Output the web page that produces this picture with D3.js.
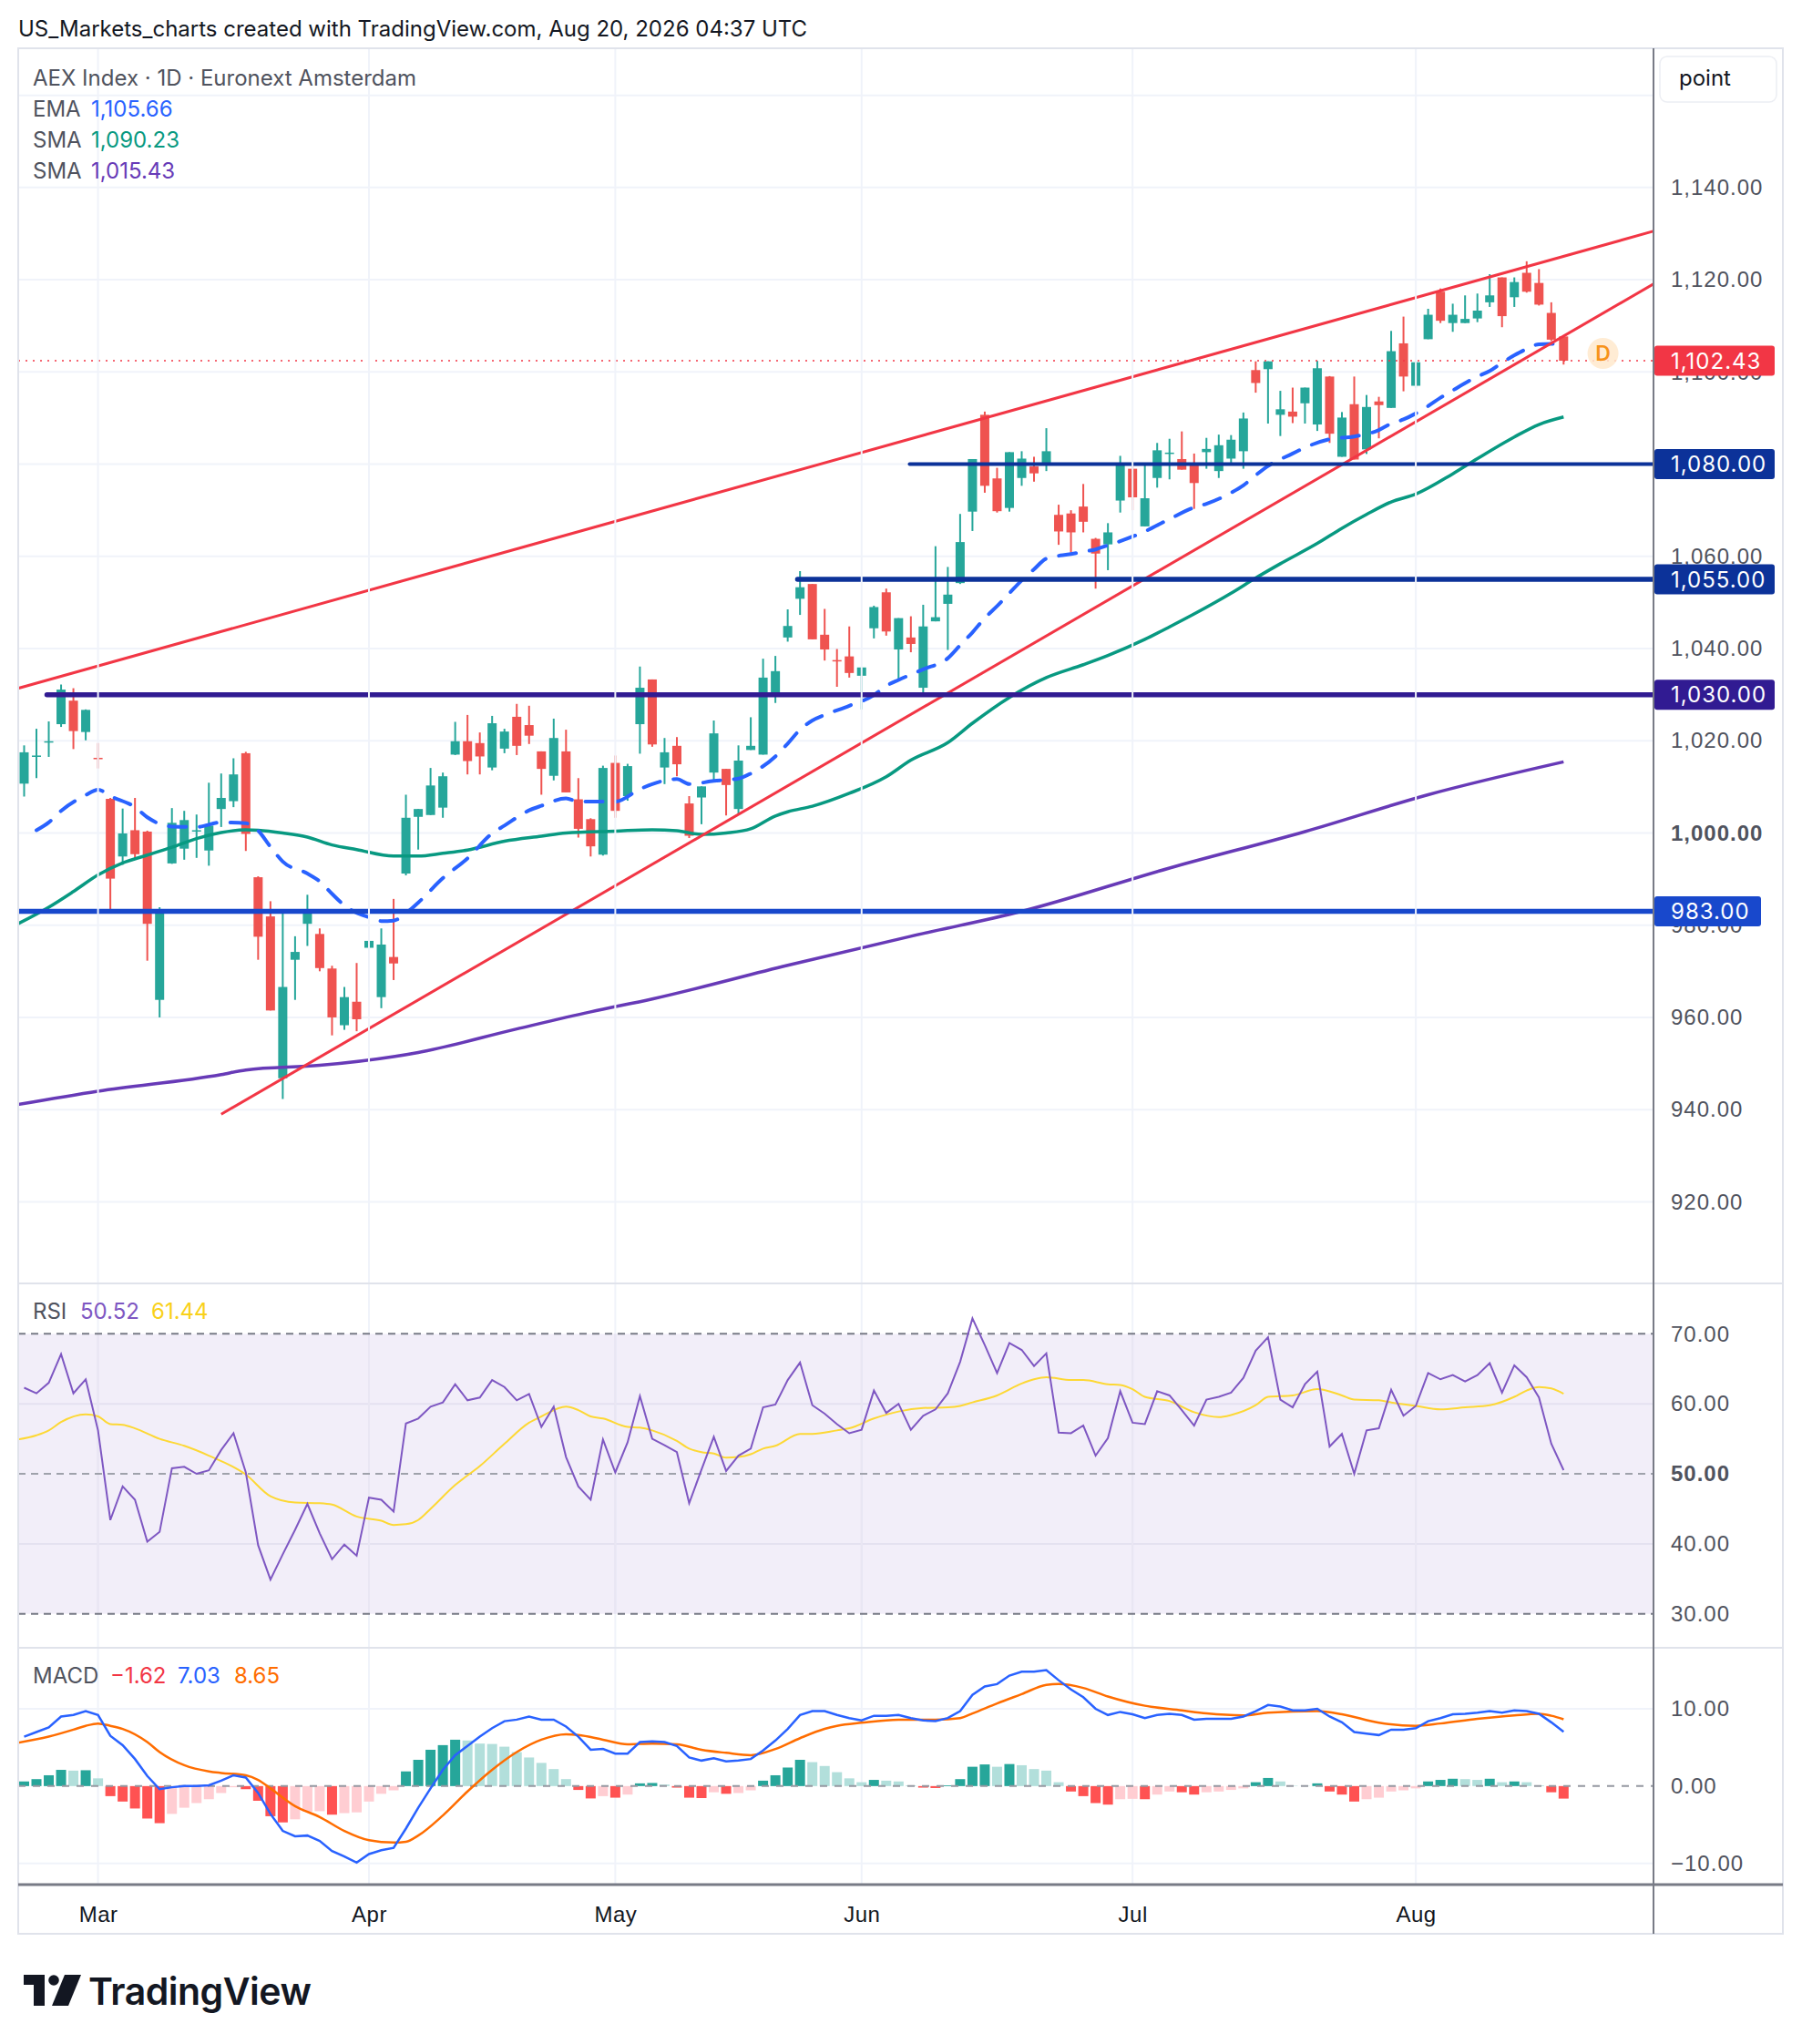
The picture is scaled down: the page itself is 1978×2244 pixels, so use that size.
<!DOCTYPE html>
<html lang="en">
<head>
<meta charset="UTF-8">
<title>AEX Index · 1D · Euronext Amsterdam</title>
<script src="https://d3js.org/d3.v7.min.js"></script>
<style>
  html, body { margin: 0; padding: 0; background: #fff; overflow: hidden; }
  svg { display: block; font-family: Inter, "Noto Sans", Roboto, sans-serif; }
</style>
</head>
<body>
<div id="chart"></div>
<script>
// daily candles: [date, open, high, low, close]
const candles = [
  ["2026-02-20",1010.7,1019.0,1007.9,1017.5],["2026-02-23",1016.5,1022.6,1011.9,1016.8],
  ["2026-02-24",1019.6,1024.2,1016.5,1019.9],["2026-02-25",1023.6,1032.2,1023.0,1031.1],
  ["2026-02-26",1028.7,1031.4,1018.2,1022.1],["2026-02-27",1021.9,1026.8,1020.1,1026.7],
  ["2026-03-02",1016.3,1019.5,1014.0,1016.0],["2026-03-03",1007.4,1007.6,983.4,990.1],
  ["2026-03-04",994.9,1005.3,993.1,999.9],["2026-03-05",1000.6,1007.6,994.4,995.4],
  ["2026-03-06",1000.3,1000.5,972.3,980.3],["2026-03-09",963.8,983.9,960.0,982.9],
  ["2026-03-10",993.4,1005.4,993.3,1002.2],["2026-03-11",996.6,1004.8,994.2,1002.8],
  ["2026-03-12",1000.4,1004.0,994.6,1000.6],["2026-03-13",996.2,1010.9,992.9,1001.6],
  ["2026-03-16",1005.2,1012.9,1001.3,1007.6],["2026-03-17",1006.9,1016.2,1005.6,1012.7],
  ["2026-03-18",1017.3,1017.6,996.1,999.8],["2026-03-19",990.4,990.6,972.5,977.5],
  ["2026-03-20",981.9,985.2,961.5,961.5],["2026-03-23",946.8,982.9,942.3,966.6],
  ["2026-03-24",972.5,977.6,963.8,974.2],["2026-03-25",980.3,986.6,975.5,983.0],
  ["2026-03-26",978.1,979.3,970.0,970.7],["2026-03-27",970.6,971.2,956.1,960.0],
  ["2026-03-30",958.3,966.6,957.3,964.4],["2026-03-31",963.4,971.8,957.0,959.6],
  ["2026-04-01",975.1,976.6,966.5,976.6],["2026-04-02",964.4,979.3,962.0,975.8],
  ["2026-04-07",973.1,985.7,968.1,971.7],["2026-04-08",991.2,1008.3,990.8,1003.3],
  ["2026-04-09",1003.5,1005.2,996.4,1005.2],["2026-04-10",1003.9,1014.1,1003.9,1010.3],
  ["2026-04-13",1005.5,1013.1,1003.3,1012.3],["2026-04-14",1017.0,1024.1,1016.9,1019.9],
  ["2026-04-15",1019.9,1025.6,1012.7,1015.6],["2026-04-16",1019.5,1021.8,1012.7,1016.6],
  ["2026-04-17",1014.2,1025.4,1013.6,1023.8],["2026-04-20",1018.3,1022.6,1017.3,1022.0],
  ["2026-04-21",1025.2,1028.0,1016.9,1018.9],["2026-04-22",1023.4,1027.6,1019.3,1021.1],
  ["2026-04-23",1017.7,1017.7,1008.3,1013.9],["2026-04-24",1012.4,1024.8,1011.4,1020.6],
  ["2026-04-27",1017.7,1022.4,1008.8,1008.8],["2026-04-28",1007.3,1011.9,999.0,1000.9],
  ["2026-04-29",1003.0,1003.2,994.9,997.1],["2026-04-30",995.3,1014.6,995.1,1014.1],
  ["2026-05-04",1015.2,1016.8,1003.3,1004.8],["2026-05-05",1008.0,1015.0,1007.0,1014.5],
  ["2026-05-06",1023.6,1036.1,1017.2,1031.5],["2026-05-07",1033.3,1033.3,1018.7,1019.2],
  ["2026-05-08",1014.2,1020.6,1010.6,1017.5],["2026-05-11",1018.9,1020.8,1012.3,1014.9],
  ["2026-05-12",1006.4,1008.0,998.9,999.4],["2026-05-13",1007.7,1010.1,1001.9,1010.1],
  ["2026-05-14",1013.1,1024.4,1011.4,1021.6],["2026-05-15",1013.9,1013.9,1003.8,1010.4],
  ["2026-05-18",1005.2,1019.0,1004.2,1015.7],["2026-05-19",1018.0,1025.1,1018.0,1018.9],
  ["2026-05-20",1017.0,1037.8,1017.0,1033.7],["2026-05-21",1029.9,1038.4,1028.2,1035.1],
  ["2026-05-22",1042.4,1048.5,1041.5,1044.9],["2026-05-25",1050.8,1056.8,1047.3,1053.3],
  ["2026-05-26",1054.0,1054.0,1042.0,1042.0],["2026-05-27",1043.0,1048.6,1037.4,1039.8],
  ["2026-05-28",1037.5,1039.9,1031.7,1037.3],["2026-05-29",1038.3,1044.8,1033.7,1034.7],
  ["2026-06-01",1034.1,1035.9,1026.8,1035.9],["2026-06-02",1044.4,1049.3,1042.2,1049.0],
  ["2026-06-03",1052.2,1053.0,1042.8,1043.7],["2026-06-04",1039.8,1046.6,1033.4,1046.6],
  ["2026-06-05",1042.4,1047.0,1039.2,1041.0],["2026-06-08",1031.5,1049.5,1029.8,1044.8],
  ["2026-06-09",1045.9,1062.2,1045.9,1046.8],["2026-06-10",1049.7,1057.7,1039.7,1051.7],
  ["2026-06-11",1054.2,1069.2,1054.0,1063.1],["2026-06-12",1069.7,1081.1,1065.5,1081.1],
  ["2026-06-15",1090.7,1091.4,1073.8,1075.3],["2026-06-16",1076.9,1079.2,1069.5,1069.8],
  ["2026-06-17",1070.5,1082.6,1069.7,1082.6],["2026-06-18",1077.0,1082.8,1075.3,1081.2],
  ["2026-06-19",1079.5,1081.6,1076.2,1078.0],["2026-06-22",1080.2,1087.8,1078.5,1082.8],
  ["2026-06-23",1069.0,1071.2,1062.5,1065.4],["2026-06-24",1069.3,1070.0,1060.8,1065.2],
  ["2026-06-25",1070.8,1075.7,1065.2,1067.5],["2026-06-26",1063.8,1064.0,1053.0,1060.6],
  ["2026-06-29",1062.6,1067.2,1057.0,1065.2],["2026-06-30",1072.1,1081.8,1069.5,1080.0],
  ["2026-07-01",1079.0,1080.0,1070.0,1072.8],["2026-07-02",1066.5,1080.2,1066.5,1072.6],
  ["2026-07-03",1077.0,1084.6,1074.9,1083.0],["2026-07-06",1082.3,1085.5,1076.7,1082.5],
  ["2026-07-07",1081.1,1087.1,1078.8,1078.8],["2026-07-08",1080.3,1082.3,1070.3,1075.9],
  ["2026-07-09",1082.6,1085.7,1079.0,1083.3],["2026-07-10",1078.5,1086.4,1077.0,1084.1],
  ["2026-07-13",1081.2,1086.3,1079.9,1085.3],["2026-07-14",1082.8,1091.2,1079.0,1089.9],
  ["2026-07-15",1100.4,1102.3,1095.5,1097.6],["2026-07-16",1100.6,1102.3,1088.8,1102.3],
  ["2026-07-17",1090.7,1095.9,1086.1,1091.9],["2026-07-20",1091.4,1096.6,1088.9,1090.3],
  ["2026-07-21",1093.2,1096.6,1088.8,1096.6],["2026-07-22",1088.6,1102.4,1087.2,1100.8],
  ["2026-07-23",1099.0,1099.1,1084.6,1086.6],["2026-07-24",1081.6,1091.3,1081.6,1090.1],
  ["2026-07-27",1093.0,1099.0,1081.0,1081.0],["2026-07-28",1083.2,1095.0,1082.2,1092.4],
  ["2026-07-29",1093.6,1094.6,1085.6,1092.8],["2026-07-30",1092.2,1108.9,1092.2,1104.5],
  ["2026-07-31",1106.2,1112.0,1095.8,1099.0],["2026-08-03",1097.0,1102.5,1096.5,1102.1],
  ["2026-08-04",1107.1,1113.7,1107.1,1112.4],["2026-08-05",1117.4,1118.1,1110.6,1111.1],
  ["2026-08-06",1110.6,1114.8,1108.7,1112.4],["2026-08-07",1110.6,1116.6,1110.6,1111.5],
  ["2026-08-10",1111.6,1117.0,1110.8,1113.3],["2026-08-11",1115.1,1121.2,1114.1,1116.6],
  ["2026-08-12",1120.5,1120.5,1109.7,1112.1],["2026-08-13",1116.2,1120.5,1114.1,1119.5],
  ["2026-08-14",1121.5,1124.0,1117.2,1117.4],["2026-08-17",1119.3,1122.3,1114.4,1114.6],
  ["2026-08-18",1112.8,1115.1,1106.7,1107.0],["2026-08-19",1107.7,1107.7,1101.6,1102.43]
];

// moving averages: [bar index, value]
const emaPts = [[1,1000.6],[2,1002.3],[3,1004.8],[5,1008.2],[6,1009.4],[7,1008.0],[9,1005.6],[10,1003.4],[12,1001.4],[14,1001.3],[16,1002.3],[18,1002.1],[19,1000.5],[20,997.0],[21,993.8],[23,991.2],[24,989.5],[25,986.8],[26,984.3],[28,981.7],[29,980.9],[30,981.0],[31,982.6],[32,984.9],[34,990.2],[36,994.5],[38,999.9],[39,1001.6],[41,1004.9],[42,1005.9],[44,1007.5],[45,1006.8],[48,1006.8],[50,1009.5],[51,1010.6],[53,1011.7],[54,1010.6],[56,1011.3],[58,1011.8],[59,1012.9],[61,1016.6],[62,1019.4],[63,1022.4],[64,1024.4],[65,1025.6],[67,1027.6],[69,1029.9],[70,1031.9],[71,1033.2],[73,1035.5],[75,1037.9],[76,1040.7],[77,1043.5],[78,1046.6],[79,1049.2],[80,1052.0],[81,1054.8],[82,1057.2],[83,1059.5],[85,1060.5],[86,1061.0],[87,1061.5],[88,1062.4],[89,1063.3],[91,1065.4],[93,1068.1],[95,1070.6],[96,1071.4],[98,1073.8],[99,1075.4],[100,1077.6],[101,1079.6],[103,1082.3],[104,1083.6],[106,1085.4],[108,1086.0],[110,1087.4],[111,1088.8],[112,1089.7],[113,1091.0],[114,1092.6],[115,1094.4],[116,1096.0],[118,1099.0],[119,1100.2],[120,1102.0],[121,1103.6],[122,1105.0],[123,1106.0],[124,1106.1],[125,1105.66]];
const sma50Pts = [[-0.5,980.3],[2,983.9],[4,987.3],[6,990.9],[8,993.5],[10,995.2],[12,996.9],[14,998.8],[16,1000.1],[18,1000.7],[19,1000.6],[21,1000.0],[23,999.1],[25,997.4],[27,996.4],[30,995.0],[32,995.0],[34,995.6],[36,996.3],[39,998.2],[42,999.3],[44,1000.0],[48,1000.4],[51,1000.7],[53,1000.5],[55,999.7],[57,1000.0],[59,1000.9],[61,1003.7],[62,1004.6],[64,1005.8],[67,1008.6],[70,1012.2],[72,1015.8],[75,1019.6],[77,1023.8],[80,1029.4],[83,1033.7],[86,1036.5],[88,1038.5],[91,1042.0],[93,1044.7],[95,1047.5],[98,1052.0],[100,1055.3],[102,1058.4],[105,1062.8],[107,1066.1],[109,1069.1],[111,1071.8],[113,1073.5],[116,1077.9],[118,1081.2],[121,1085.9],[123,1088.6],[125,1090.23]];
const sma200Pts = [[-0.5,941.1],[6,944.0],[16,947.6],[18,948.6],[24,949.6],[30,951.5],[32,952.4],[40,957.5],[46,961.2],[51,964.0],[62,971.3],[72,977.6],[81,983.0],[93,992.4],[104,1000.3],[114,1008.3],[125,1015.43]];

// RSI(14) per bar, its moving average as read points
const rsi = [62.3,61.5,63.0,67.1,61.5,63.5,56.2,43.4,48.2,46.3,40.3,41.7,50.8,51.0,50.0,50.5,53.4,55.8,50.2,39.8,
  34.9,38.5,42.0,45.7,41.5,37.8,39.9,38.3,46.6,46.3,44.6,57.2,57.9,59.6,60.2,62.8,60.5,60.9,63.4,62.4,
  60.5,61.4,56.7,59.6,52.4,48.2,46.3,54.9,50.2,54.5,61.1,55.0,54.1,53.1,45.8,50.6,55.3,50.4,52.6,53.6,
  59.5,59.9,63.4,65.9,59.8,58.6,57.1,55.8,56.3,61.9,58.7,60.0,56.3,58.3,59.2,61.5,66.0,72.2,68.4,64.4,
  68.7,67.7,65.4,67.2,55.9,55.8,56.9,52.6,55.1,61.8,57.3,57.1,61.8,61.2,59.1,56.9,60.6,61.0,61.6,63.7,
  67.6,69.5,60.6,59.5,62.8,64.6,53.9,55.7,50.0,56.2,56.5,62.0,58.3,59.7,64.4,63.5,64.1,63.2,64.1,65.8,
  61.6,65.5,63.8,60.9,54.3,50.52];
const rsiMaPts = [[-0.5,54.9],[1,55.5],[2,56.2],[3,57.4],[5,58.5],[6,58.2],[7,57.1],[8,57.0],[9,56.5],[11,55.0],[13,54.0],[15,52.6],[18,49.9],[20,46.8],[22,45.9],[24,45.8],[25,45.6],[27,43.9],[29,43.3],[30,42.7],[31,42.8],[32,43.4],[33,45.0],[35,48.4],[37,51.1],[39,54.3],[41,57.3],[42,58.2],[44,59.6],[45,59.1],[46,58.2],[47,57.9],[49,56.7],[50,56.6],[51,56.2],[53,54.7],[54,53.6],[55,53.1],[56,52.9],[57,52.3],[58,52.4],[59,52.8],[60,53.6],[61,54.0],[63,55.7],[64,55.7],[66,56.2],[67,56.5],[69,57.9],[71,58.9],[73,59.4],[75,59.5],[76,59.7],[77,60.2],[79,61.2],[81,62.9],[82,63.5],[83,63.8],[85,63.4],[86,63.4],[88,62.8],[89,62.7],[90,62.1],[91,61.0],[93,60.4],[95,58.8],[97,58.1],[98,58.4],[100,59.8],[101,61.0],[103,61.2],[105,62.1],[107,61.2],[108,60.6],[110,60.5],[111,60.2],[113,59.7],[115,59.2],[117,59.5],[119,59.8],[121,61.0],[122,61.9],[123,62.4],[124,62.2],[125,61.44]];

// MACD(12,26,9)
const macdHist = [0.6,0.9,1.4,2.1,2.0,2.05,1.0,-1.3,-2.0,-2.9,-4.2,-4.8,-3.6,-2.8,-2.2,-1.7,-0.9,-0.15,-0.4,-1.9,
  -3.9,-4.7,-4.3,-3.3,-3.25,-3.7,-3.5,-3.4,-2.0,-1.0,-0.55,1.9,3.4,4.7,5.3,6.0,5.9,5.5,5.45,5.1,
  4.4,3.7,3.0,2.2,0.9,-0.5,-1.6,-1.3,-1.5,-1.1,0.35,0.4,0.2,-0.2,-1.5,-1.55,-0.8,-1.0,-0.9,-0.55,
  0.7,1.4,2.4,3.4,3.1,2.6,1.8,1.0,0.5,0.8,0.7,0.6,0.1,-0.2,-0.25,0.1,0.9,2.5,2.8,2.5,
  2.85,2.7,2.2,2.0,0.5,-0.7,-1.3,-2.2,-2.4,-1.7,-1.65,-1.7,-1.1,-0.7,-0.8,-1.1,-0.8,-0.7,-0.5,-0.3,
  0.5,1.05,0.6,0.05,0.03,0.35,-0.7,-1.1,-2.0,-1.7,-1.5,-0.7,-0.55,-0.3,0.6,0.8,0.95,0.9,0.8,0.95,
  0.5,0.6,0.5,0.1,-0.8,-1.62];
const macdLine = [6.4,7.0,7.6,9.0,9.2,9.7,9.2,6.5,5.3,3.5,1.3,-0.4,-0.15,0,0,0.1,0.7,1.4,1.1,-0.9,
  -3.6,-5.8,-6.5,-6.4,-7.1,-8.4,-9.1,-9.9,-8.8,-8.3,-8.0,-5.5,-2.8,-0.3,2.1,4.0,5.2,6.4,7.5,8.4,
  8.6,9.0,8.6,8.6,7.7,6.4,4.7,4.8,4.2,4.2,5.7,5.8,5.7,5.2,3.7,3.3,3.6,3.2,3.3,3.5,
  4.6,5.9,7.4,9.2,9.7,9.7,9.2,8.8,8.5,9.1,9.1,9.2,8.8,8.5,8.4,8.8,9.7,11.8,12.9,13.2,
  14.3,14.8,14.8,15.0,13.7,12.5,11.5,10.0,9.2,9.6,9.3,8.8,9.2,9.35,9.2,8.6,8.7,8.7,8.7,9.0,
  9.7,10.5,10.3,9.8,9.8,10.0,9.0,8.25,7.0,6.8,6.6,7.3,7.3,7.5,8.4,8.8,9.3,9.35,9.5,9.7,
  9.5,9.8,9.7,9.35,8.25,7.03];
const signalPts = [[-0.5,5.6],[2,6.4],[4,7.3],[5,7.8],[6,8.1],[7,7.8],[8,7.4],[10,5.7],[11,4.4],[13,2.7],[15,1.9],[16,1.7],[18,1.4],[19,0.8],[20,-0.3],[22,-2.6],[24,-4.0],[26,-5.8],[28,-7.0],[30,-7.3],[31,-7.2],[32,-6.4],[34,-3.8],[36,-0.7],[38,2.1],[40,4.4],[42,6.0],[44,6.7],[45,6.6],[47,6.0],[49,5.4],[51,5.5],[53,5.4],[55,4.7],[57,4.3],[59,4.0],[61,4.8],[63,6.2],[65,7.4],[66,7.8],[68,8.2],[71,8.6],[74,8.6],[76,8.8],[77,9.4],[79,10.7],[81,11.9],[83,13.1],[84,13.2],[86,12.7],[88,11.6],[91,10.4],[94,9.8],[96,9.4],[99,9.15],[101,9.5],[105,9.7],[107,9.3],[110,8.2],[113,7.8],[115,8.1],[118,8.7],[121,9.15],[123,9.35],[124,9.1],[125,8.65]];

// drawings: trend lines as two anchors [bar index, price], horizontal levels with the bar they start on
const upperTrend = [[-1,1031.0],[134,1131.8]];
const lowerTrend = [[16,939.0],[134,1121.7]];
const levelPrices = [1080, 1055, 1030, 983];
const levelStart = [71.9, 62.8, 1.85, -1];

// axis ticks and labels
const priceTicks = [920,940,960,980,1000,1020,1040,1060,1080,1100,1120,1140,1160];
const priceLabels = [920,940,960,980,1000,1020,1040,1060,1080,1100,1120,1140];
const rsiTicks = [30,40,50,60,70];
const macdTicks = [-10,0,10];
const monthLabels = ["Mar","Apr","May","Jun","Jul","Aug"];
const lastPrice = 1102.43;
const emaLast = 1105.66, sma50Last = 1090.23, sma200Last = 1015.43;
const rsiLast = 50.52, rsiMaLast = 61.44;
const histLast = -1.62, macdLast = 7.03, signalLast = 8.65;

// ---------------------------------------------------------------
const W = 1978, H = 2244;
const L = 20, R = 1815, FR = 1957;
const top0 = 53, mainBot = 1409, rsiBot = 1809, macdBot = 2069, frameBot = 2123;
const fmt2 = d3.format(",.2f");
const grid = "#f0f3fa", border = "#e0e3eb", axisDark = "#787b86", txt = "#131722", txtGrey = "#50535e";
const up = "#26a69a", down = "#ef5350";

const parse = d3.timeParse("%Y-%m-%d");
const dates = candles.map(d => parse(d[0]));

const x = d3.scaleLinear().domain([-0.48, 132.3]).range([L, R]);
const yP = d3.scaleLinear().domain([902.3, 1170.2]).range([mainBot, top0]);
const yR = d3.scaleLinear().domain([25.15, 77.2]).range([rsiBot, mainBot]);
const yM = d3.scaleLinear().domain([-12.75, 17.9]).range([macdBot, rsiBot]);

const monthIdx = monthLabels.map((m, k) => dates.findIndex(d => d.getMonth() === k + 2));

const svg = d3.select("#chart").append("svg").attr("width", W).attr("height", H);
svg.append("rect").attr("width", W).attr("height", H).attr("fill", "#fff");

const defs = svg.append("defs");
[["clipMain", top0, mainBot], ["clipRsi", mainBot, rsiBot], ["clipMacd", rsiBot, macdBot]].forEach(([id, a, b]) => {
  defs.append("clipPath").attr("id", id).append("rect").attr("x", L).attr("y", a).attr("width", R - L).attr("height", b - a);
});

// title
svg.append("text").attr("x", 20).attr("y", 40).attr("font-size", 24).attr("fill", txt)
  .text("US_Markets_charts created with TradingView.com, Aug 20, 2026 04:37 UTC");

// ---------- main pane
const gMain = svg.append("g").attr("clip-path", "url(#clipMain)");
gMain.selectAll(".hg").data(priceTicks).join("line")
  .attr("x1", L).attr("x2", R).attr("y1", d => yP(d)).attr("y2", d => yP(d))
  .attr("stroke", grid).attr("stroke-width", 2);

// vertical month grid through all panes
svg.append("g").selectAll("line").data(monthIdx).join("line")
  .attr("x1", d => x(d)).attr("x2", d => x(d)).attr("y1", top0).attr("y2", macdBot)
  .attr("stroke", grid).attr("stroke-width", 2);

// candles
const gC = gMain.append("g");
const cg = gC.selectAll("g").data(candles).join("g");
cg.append("line")
  .attr("x1", (d, i) => x(i)).attr("x2", (d, i) => x(i))
  .attr("y1", d => yP(d[2])).attr("y2", d => yP(d[3]))
  .attr("stroke", d => d[4] >= d[1] ? up : down).attr("stroke-width", 2);
cg.append("rect")
  .attr("x", (d, i) => x(i) - 5).attr("width", 10)
  .attr("y", d => yP(Math.max(d[1], d[4])))
  .attr("height", d => Math.max(1.5, Math.abs(yP(d[1]) - yP(d[4]))))
  .attr("fill", d => d[4] >= d[1] ? up : down);

// moving averages
const maLine = d3.line().x(d => x(d[0])).y(d => yP(d[1])).curve(d3.curveMonotoneX);
gMain.append("path").datum(sma200Pts).attr("d", maLine).attr("fill", "none").attr("stroke", "#673ab7").attr("stroke-width", 3.5);
gMain.append("path").datum(sma50Pts).attr("d", maLine).attr("fill", "none").attr("stroke", "#089981").attr("stroke-width", 3.5);
gMain.append("path").datum(emaPts).attr("d", maLine).attr("fill", "none").attr("stroke", "#2962ff")
  .attr("stroke-width", 4).attr("stroke-dasharray", "19 15").attr("stroke-linecap", "round");

// trend lines
[upperTrend, lowerTrend].forEach(t => {
  gMain.append("line").attr("x1", x(t[0][0])).attr("y1", yP(t[0][1])).attr("x2", x(t[1][0])).attr("y2", yP(t[1][1]))
    .attr("stroke", "#f23645").attr("stroke-width", 3);
});

// horizontal levels
const levelColor = ["#0c3299", "#0c3299", "#311b92", "#1848cc"];
const levelWidth = [4, 5.5, 5.5, 5.5];
levelPrices.forEach((p, k) => {
  gMain.append("line").attr("x1", x(levelStart[k])).attr("x2", R).attr("y1", yP(p)).attr("y2", yP(p))
    .attr("stroke", levelColor[k]).attr("stroke-width", levelWidth[k]).attr("stroke-linecap", "round");
});

// last price dotted line
gMain.append("line").attr("x1", L).attr("x2", R).attr("y1", yP(lastPrice)).attr("y2", yP(lastPrice))
  .attr("stroke", "#f23645").attr("stroke-width", 1.6).attr("stroke-dasharray", "2 6");

// dividend marker
const dm = svg.append("g").attr("transform", `translate(${x(128.2)},${yP(1104.0)})`);
dm.append("circle").attr("r", 17).attr("fill", "#ffe9cc").attr("opacity", 0.85);
dm.append("text").attr("text-anchor", "middle").attr("dy", "0.36em").attr("font-size", 23)
  .attr("font-weight", 600).attr("fill", "#f7931a").text("D");

// legend
const lg = svg.append("g").attr("font-size", 24);
lg.append("text").attr("x", 36).attr("y", 94).attr("fill", txtGrey).text("AEX Index · 1D · Euronext Amsterdam");
[["EMA", emaLast, "#2962ff", 128], ["SMA", sma50Last, "#089981", 162], ["SMA", sma200Last, "#673ab7", 196]].forEach(r => {
  lg.append("text").attr("x", 36).attr("y", r[3]).attr("fill", txtGrey).text(r[0]);
  lg.append("text").attr("x", 100).attr("y", r[3]).attr("fill", r[2]).text(fmt2(r[1]));
});

// ---------- RSI pane
const gR = svg.append("g").attr("clip-path", "url(#clipRsi)");
gR.append("rect").attr("x", L).attr("width", R - L).attr("y", yR(70)).attr("height", yR(30) - yR(70))
  .attr("fill", "#7e57c2").attr("fill-opacity", 0.1);
gR.selectAll(".g").data([40, 60]).join("line").attr("x1", L).attr("x2", R)
  .attr("y1", d => yR(d)).attr("y2", d => yR(d)).attr("stroke", "#e4e1f0").attr("stroke-width", 2);
gR.selectAll(".vg").data(monthIdx).join("line").attr("x1", d => x(d)).attr("x2", d => x(d))
  .attr("y1", yR(70)).attr("y2", yR(30)).attr("stroke", "#e9e6f3").attr("stroke-width", 2);
gR.selectAll(".b").data([70, 50, 30]).join("line").attr("x1", L).attr("x2", R)
  .attr("y1", d => yR(d)).attr("y2", d => yR(d))
  .attr("stroke", d => d === 50 ? "#9fa2ab" : axisDark).attr("stroke-width", 2).attr("stroke-dasharray", "8 6");
gR.append("path").datum(rsiMaPts)
  .attr("d", d3.line().x(d => x(d[0])).y(d => yR(d[1])).curve(d3.curveMonotoneX))
  .attr("fill", "none").attr("stroke", "#fdd835").attr("stroke-width", 2);
gR.append("path").datum(rsi)
  .attr("d", d3.line().x((d, i) => x(i)).y(d => yR(d)))
  .attr("fill", "none").attr("stroke", "#7e57c2").attr("stroke-width", 2);
const rl = svg.append("g").attr("font-size", 24);
rl.append("text").attr("x", 36).attr("y", 1448).attr("fill", txtGrey).text("RSI");
rl.append("text").attr("x", 88).attr("y", 1448).attr("fill", "#7e57c2").text(rsiLast.toFixed(2));
rl.append("text").attr("x", 166).attr("y", 1448).attr("fill", "#f9d11a").text(rsiMaLast.toFixed(2));

// ---------- MACD pane
const gM = svg.append("g").attr("clip-path", "url(#clipMacd)");
gM.selectAll(".g").data([-10, 10]).join("line").attr("x1", L).attr("x2", R)
  .attr("y1", d => yM(d)).attr("y2", d => yM(d)).attr("stroke", grid).attr("stroke-width", 2);
gM.selectAll(".bar").data(macdHist).join("rect")
  .attr("x", (d, i) => x(i) - 5.5).attr("width", 11)
  .attr("y", d => yM(Math.max(0, d))).attr("height", d => Math.abs(yM(d) - yM(0)))
  .attr("fill", (d, i) => {
    const prev = i === 0 ? -Infinity : macdHist[i - 1];
    if (d >= 0) return d >= prev ? "#26a69a" : "#b2dfdb";
    return d < prev ? "#ff5252" : "#ffcdd2";
  });
gM.append("line").attr("x1", L).attr("x2", R).attr("y1", yM(0)).attr("y2", yM(0))
  .attr("stroke", "#9598a1").attr("stroke-width", 2).attr("stroke-dasharray", "8 8");
gM.append("path").datum(signalPts)
  .attr("d", d3.line().x(d => x(d[0])).y(d => yM(d[1])).curve(d3.curveMonotoneX))
  .attr("fill", "none").attr("stroke", "#ff6d00").attr("stroke-width", 2.5);
gM.append("path").datum(macdLine)
  .attr("d", d3.line().x((d, i) => x(i)).y(d => yM(d)))
  .attr("fill", "none").attr("stroke", "#2962ff").attr("stroke-width", 2.5);
const ml = svg.append("g").attr("font-size", 24);
ml.append("text").attr("x", 36).attr("y", 1848).attr("fill", txtGrey).text("MACD");
ml.append("text").attr("x", 121).attr("y", 1848).attr("fill", "#f23645").text(d3.format(".2f")(histLast));
ml.append("text").attr("x", 195).attr("y", 1848).attr("fill", "#2962ff").text(macdLast.toFixed(2));
ml.append("text").attr("x", 257).attr("y", 1848).attr("fill", "#ff6d00").text(signalLast.toFixed(2));

// ---------- frame and separators
svg.append("rect").attr("x", L).attr("y", top0).attr("width", FR - L).attr("height", frameBot - top0)
  .attr("fill", "none").attr("stroke", border).attr("stroke-width", 2);
[mainBot, rsiBot].forEach(yy => svg.append("line").attr("x1", L).attr("x2", FR).attr("y1", yy).attr("y2", yy)
  .attr("stroke", border).attr("stroke-width", 2));
svg.append("line").attr("x1", L).attr("x2", FR).attr("y1", macdBot).attr("y2", macdBot)
  .attr("stroke", axisDark).attr("stroke-width", 3);
svg.append("line").attr("x1", R).attr("x2", R).attr("y1", top0).attr("y2", frameBot)
  .attr("stroke", axisDark).attr("stroke-width", 2);

// ---------- axes
function rightAxis(scale, ticks, boldVal) {
  const g = svg.append("g").attr("transform", `translate(${R},0)`)
    .call(d3.axisRight(scale).tickValues(ticks).tickSize(0).tickPadding(19).tickFormat(fmt2));
  g.select(".domain").remove();
  g.selectAll("text").attr("font-size", 24).attr("letter-spacing", 1).attr("font-family", null).attr("fill", txtGrey)
    .attr("font-weight", d => d === boldVal ? 700 : 400);
  return g;
}
rightAxis(yP, priceLabels, 1000);
rightAxis(yR, rsiTicks, 50);
rightAxis(yM, macdTicks, null);

const xa = svg.append("g").attr("transform", `translate(0,${macdBot})`)
  .call(d3.axisBottom(x).tickValues(monthIdx).tickSize(0).tickPadding(24).tickFormat((d, k) => monthLabels[k]));
xa.select(".domain").remove();
xa.selectAll("text").attr("font-size", 24).attr("letter-spacing", 0.5).attr("font-family", null).attr("fill", txt);

// price labels on axis
const tags = [[lastPrice, "#f23645", 132], [1080, "#0c3299", 132], [1055, "#0c3299", 132], [1030, "#311b92", 132], [983, "#1848cc", 117]];
tags.forEach(([p, c, w]) => {
  const g = svg.append("g").attr("transform", `translate(${R + 1},${yP(p)})`);
  g.append("rect").attr("y", -16.5).attr("width", w).attr("height", 33).attr("rx", 3).attr("fill", c);
  g.append("text").attr("x", 18).attr("dy", "0.36em").attr("font-size", 24).attr("letter-spacing", 1)
    .attr("fill", "#fff").text(fmt2(p));
});

// unit button
svg.append("rect").attr("x", 1822).attr("y", 62).attr("width", 128).attr("height", 50).attr("rx", 8)
  .attr("fill", "#fff").attr("stroke", "#eceef3").attr("stroke-width", 1.5);
svg.append("text").attr("x", 1843).attr("y", 94).attr("font-size", 24).attr("fill", txt).text("point");

// ---------- TradingView logo
const logo = svg.append("g").attr("transform", "translate(26,2168)").attr("fill", txt);
logo.append("path").attr("d", "M0,0 H23 V34 H11 V11 H0 Z");
logo.append("circle").attr("cx", 33).attr("cy", 6).attr("r", 5.8);
logo.append("path").attr("d", "M45,0 H63 L49,34 H31 Z");
svg.append("text").attr("x", 97).attr("y", 2201).attr("font-size", 41).attr("font-weight", 600)
  .attr("fill", txt).attr("letter-spacing", -0.5).text("TradingView");
</script>
</body>
</html>
